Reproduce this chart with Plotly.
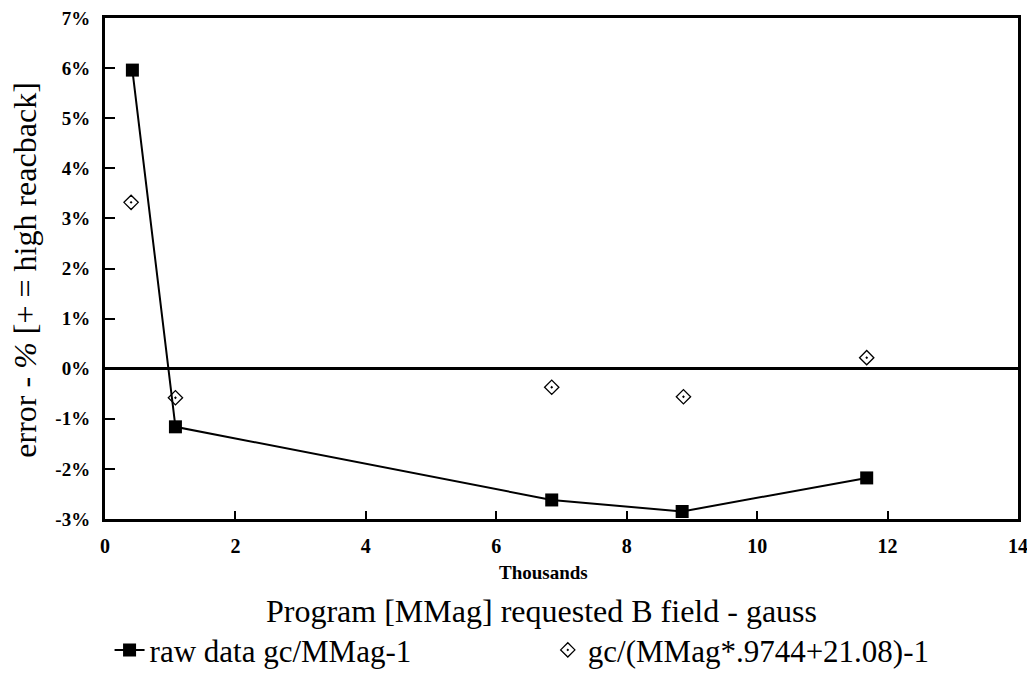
import plotly.graph_objects as go

# Data (x in thousands of gauss, y in percent error)
raw_x = [0.42, 1.08, 6.85, 8.85, 11.68]
raw_y = [5.96, -1.16, -2.62, -2.85, -2.18]
corr_x = [0.40, 1.08, 6.85, 8.87, 11.68]
corr_y = [3.32, -0.58, -0.37, -0.56, 0.22]

y_tickvals = [-3, -2, -1, 0, 1, 2, 3, 4, 5, 6, 7]
y_ticktext = ["-3%", "-2%", "-1%", "0%", "1%", "2%", "3%", "4%", "5%", "6%", "7%"]
x_tickvals = [0, 2, 4, 6, 8, 10, 12, 14]
x_ticktext = ["0", "2", "4", "6", "8", "10", "12", "14"]

serif = "Liberation Serif"

fig = go.Figure()
fig.add_trace(go.Scatter(
    x=raw_x, y=raw_y, mode="lines+markers", name="raw data gc/MMag-1",
    line=dict(color="black", width=2),
    marker=dict(symbol="square", size=13, color="black"),
    legend="legend",
))
fig.add_trace(go.Scatter(
    x=corr_x, y=corr_y, mode="markers", name="gc/(MMag*.9744+21.08)-1",
    marker=dict(symbol="diamond-open-dot", size=11, color="black",
                line=dict(width=1.3, color="black")),
    legend="legend2",
))

legend_common = dict(orientation="h", yanchor="middle", y=-0.262, xanchor="left",
                     font=dict(size=31, family=serif, color="black"),
                     itemwidth=30, bgcolor="rgba(0,0,0,0)", borderwidth=0)

fig.update_layout(
    width=1027, height=670,
    paper_bgcolor="white", plot_bgcolor="white",
    margin=dict(l=97, r=17, t=10, b=159, autoexpand=False),
    font=dict(family=serif, color="black"),
    showlegend=True,
    legend=dict(x=0.005, **legend_common),
    legend2=dict(x=0.485, **legend_common),
    xaxis=dict(range=[0, 14], tickvals=x_tickvals, ticktext=x_ticktext,
               ticks="inside", ticklen=8, tickwidth=1.5, tickcolor="black",
               showline=True, linewidth=3, linecolor="black", mirror=True,
               showgrid=False, zeroline=False, automargin=False,
               ticklabelstandoff=7, ticklabeloverflow="allow",
               tickfont=dict(size=20, family=serif, weight="bold")),
    yaxis=dict(range=[-3, 7], tickvals=y_tickvals, ticktext=y_ticktext,
               ticks="inside", ticklen=10, tickwidth=1.5, tickcolor="black",
               showline=True, linewidth=3, linecolor="black", mirror=True,
               showgrid=False, zeroline=True, zerolinewidth=2.5, zerolinecolor="black",
               automargin=False, ticklabelstandoff=8, ticklabeloverflow="allow",
               tickfont=dict(size=19, family=serif, weight="bold")),
    annotations=[
        dict(text="<b>Thousands</b>", xref="paper", yref="paper",
             x=0.48, y=-0.107, xanchor="center", yanchor="middle",
             showarrow=False, font=dict(size=19, family=serif)),
        dict(text="Program [MMag] requested B field - gauss", xref="paper", yref="paper",
             x=0.478, y=-0.183, xanchor="center", yanchor="middle",
             showarrow=False, font=dict(size=32, family=serif)),
        dict(text="error - <i>%</i> [+ = high reacback]", xref="paper", yref="paper",
             x=-0.088, y=0.497, xanchor="center", yanchor="middle", textangle=-90,
             showarrow=False, font=dict(size=32, family=serif)),
    ],
)

fig.write_html("out.html")
